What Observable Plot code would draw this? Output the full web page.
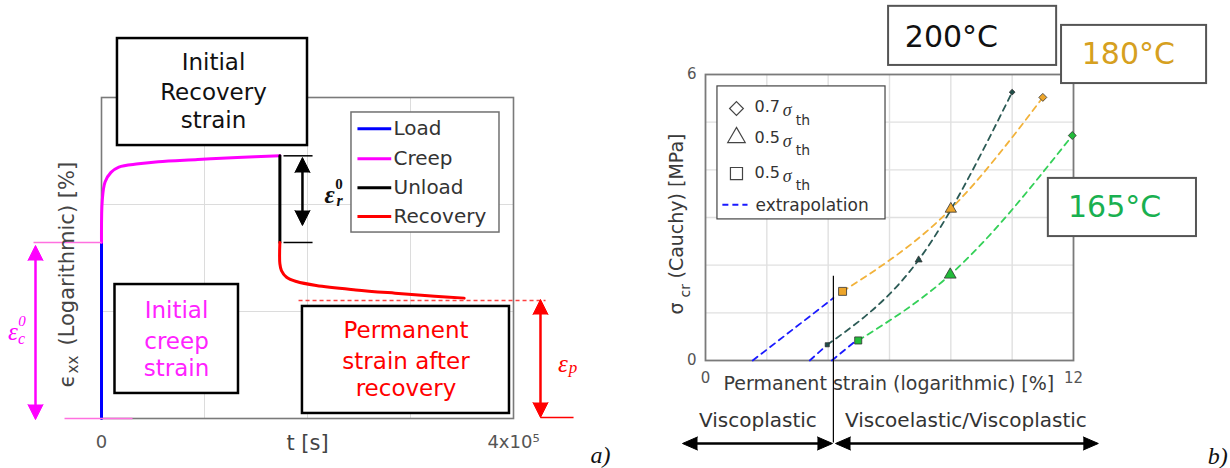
<!DOCTYPE html>
<html><head><meta charset="utf-8">
<script src="https://cdn.jsdelivr.net/npm/d3@7"></script>
<script src="https://cdn.jsdelivr.net/npm/@observablehq/plot@0.6"></script>
<style>
html,body{margin:0;padding:0;background:#fff;}
#wrap{display:flex;width:1230px;height:468px;overflow:hidden;}
#wrap svg{display:block;flex:none;}
</style></head><body><div id="wrap"></div>
<script>
// ================= Panel a) data =================
const stageNames = ["Load", "Creep", "Unload", "Recovery"];
const stageColors = ["#0000ff", "#ff00ff", "#000000", "#ff0000"];
const loadTime = [0, 0];
const loadStrain = [0, 1.645];
const creepTime = [0, 766, 3448, 9195, 16858, 36015, 55172, 93487, 131800, 173180];
const creepStrain = [1.645, 2.04, 2.21, 2.30, 2.35, 2.38, 2.40, 2.42, 2.44, 2.455];
const unloadTime = [173180, 173180];
const unloadStrain = [2.455, 1.645];
const recoveryTime = [173180, 173180, 174710, 179690, 189270, 208430, 246740, 285060, 323370, 352110];
const recoveryStrain = [1.645, 1.446, 1.383, 1.32, 1.28, 1.243, 1.202, 1.171, 1.143, 1.125];
const timeTicks = [0, 4e5];
const timeTickLabels = ["0", "4x10\u2075"];
const timeGrid = [1e5, 2e5, 3e5];
const logStrainGrid = [1, 2];

// ================= Panel b) data =================
const temperatures = ["200\u00b0C", "180\u00b0C", "165\u00b0C"];
const stressLevels = ["0.5\u03c3th (square)", "0.5\u03c3th (triangle)", "0.7\u03c3th (diamond)"];
const strain200 = [3.97, 6.95, 10.0];
const sigma200 = [0.33, 2.11, 5.63];
const strain180 = [4.47, 8.0, 11.0];
const sigma180 = [1.45, 3.18, 5.52];
const strain165 = [4.98, 7.98, 11.96];
const sigma165 = [0.42, 1.80, 4.72];
const extrapStrain200 = [3.40, 3.97];
const extrapSigma200 = [0, 0.33];
const extrapStrain180 = [1.54, 4.17];
const extrapSigma180 = [0, 1.31];
const extrapStrain165 = [4.12, 4.84];
const extrapSigma165 = [0, 0.38];
const boundaryStrain = 4.17;
const strainTicks = [0, 12];
const strainGrid = [2, 4, 6, 8, 10];
const sigmaTicks = [0, 6];
const sigmaGrid = [1, 2, 3, 4, 5];

// ================= helpers =================
const SANS = "DejaVu Sans", SERIF = "Liberation Serif";
const pts = (xs, ys) => xs.map((x, i) => ({x, y: ys[i]}));
const T = (rows, o = {}) => Plot.text(rows, {x: "x", y: "y", text: "t", fontFamily: SANS, ...o});
const L = (rows, o = {}) => Plot.link(rows, {x1: "x1", y1: "y1", x2: "x2", y2: "y2", ...o});
const H = (rows, o = {}) => Plot.vector(rows, {x: "x", y: "y", rotate: "rot", shape: "spike", anchor: "end", strokeWidth: 1, ...o});
const R = (rows, o = {}) => Plot.rect(rows, {x1: "x1", x2: "x2", y1: "y1", y2: "y2", fill: "white", ...o});

const wrap = document.getElementById("wrap");

// ================= Panel a) =================
const stageData = [
  pts(loadTime, loadStrain), pts(creepTime, creepStrain),
  pts(unloadTime, unloadStrain), pts(recoveryTime, recoveryStrain)
];
const legendY = [2.707, 2.427, 2.156, 1.888];

const chartA = Plot.plot({
  width: 615, height: 468,
  marginLeft: 101, marginRight: 102, marginTop: 97, marginBottom: 50,
  x: {domain: [0, 4e5]},
  y: {domain: [0, 3], axis: null},
  style: {fontFamily: SANS, background: "white", overflow: "visible"},
  marks: [
    Plot.gridX({ticks: timeGrid, stroke: "#dcdcdc", strokeOpacity: 1}),
    Plot.gridY({ticks: logStrainGrid, stroke: "#dcdcdc", strokeOpacity: 1}),
    Plot.frame({stroke: "#7a7a7a", strokeWidth: 1.6}),
    Plot.axisX({ticks: timeTicks, tickFormat: d => timeTickLabels[timeTicks.indexOf(d)], tickSize: 0, tickPadding: 17, fontSize: 18, color: "#555", label: null}),
    ...stageData.map((d, i) => Plot.line(d, {x: "x", y: "y", stroke: stageColors[i], strokeWidth: 3,
      curve: (i === 1 || i === 3) ? "catmull-rom" : "linear"})),
    L([{x1: -66000, x2: 0, y1: 1.645, y2: 1.645}, {x1: -35900, x2: 30100, y1: 0, y2: 0}], {stroke: "#ff70e0", strokeWidth: 1.6}),
    R([{x1: 15500, x2: 200000, y1: 2.551, y2: 3.551}], {stroke: "black", strokeWidth: 2.5}),
    R([{x1: 13100, x2: 133000, y1: 0.234, y2: 1.252}], {stroke: "black", strokeWidth: 2.5}),
    R([{x1: 195100, x2: 396100, y1: 0.047, y2: 1.047}], {stroke: "black", strokeWidth: 2.5}),
    R([{x1: 242700, x2: 386400, y1: 1.738, y2: 2.860}], {stroke: "#707070", strokeWidth: 1.5}),
    ...stageNames.map((n, i) => L([{x1: 248500, x2: 281300, y1: legendY[i], y2: legendY[i]}], {stroke: stageColors[i], strokeWidth: 3})),
    T(stageNames.map((n, i) => ({x: 283500, y: legendY[i], t: n})), {textAnchor: "start", fontSize: 20, fill: "#333"}),
    T([{x: 108700, y: 3.324, t: "Initial"}, {x: 108700, y: 3.044, t: "Recovery"}, {x: 108700, y: 2.785, t: "strain"}], {fontSize: 23, fill: "#111"}),
    T([{x: 72800, y: 1.009, t: "Initial"}, {x: 72800, y: 0.723, t: "creep"}, {x: 72800, y: 0.464, t: "strain"}], {fontSize: 23, fill: "#ff22ff"}),
    T([{x: 295600, y: 0.822, t: "Permanent"}, {x: 295600, y: 0.536, t: "strain after"}, {x: 295600, y: 0.278, t: "recovery"}], {fontSize: 23, fill: "#ff0000"}),
    T([{x: 200000, y: -0.234, t: "t [s]"}], {fontSize: 21, fill: "#444"}),
    T([{x: -33000, y: 0.290, t: "\u03f5"}], {rotate: -90, textAnchor: "start", fontSize: 21, fill: "#444"}),
    T([{x: -27200, y: 0.421, t: "xx"}], {rotate: -90, textAnchor: "start", fontSize: 15, fill: "#444"}),
    T([{x: -33000, y: 0.682, t: "(Logarithmic) [%]"}], {rotate: -90, textAnchor: "start", fontSize: 21, fill: "#444"}),
    L([{x1: -64080, x2: -64080, y1: 0.1, y2: 1.55}], {stroke: "#ff00ff", strokeWidth: 2.5}),
    H([{x: -64080, y: 1.617, rot: 0}, {x: -64080, y: -0.01, rot: 180}], {length: 15, r: 7.5, fill: "#ff00ff", stroke: "#ff00ff"}),
    T([{x: -85900, y: 0.808, t: "\u03b5"}], {fontFamily: SERIF, fontStyle: "italic", fontSize: 25, fill: "#ff00ff"}),
    T([{x: -77200, y: 0.905, t: "0"}], {fontFamily: SERIF, fontStyle: "italic", fontSize: 15, fill: "#ff00ff"}),
    T([{x: -77700, y: 0.745, t: "c"}], {fontFamily: SERIF, fontStyle: "italic", fontSize: 16, fill: "#ff00ff"}),
    L([{x1: 176700, x2: 204900, y1: 2.455, y2: 2.455}, {x1: 176700, x2: 204900, y1: 1.645, y2: 1.645}], {stroke: "black", strokeWidth: 1.5}),
    L([{x1: 195100, x2: 195100, y1: 1.85, y2: 2.40}], {stroke: "black", strokeWidth: 2.5}),
    H([{x: 195100, y: 2.439, rot: 0}, {x: 195100, y: 1.804, rot: 180}], {length: 15, r: 7.5, fill: "black", stroke: "black"}),
    T([{x: 221400, y: 2.093, t: "\u03b5"}], {fontFamily: SERIF, fontStyle: "italic", fontWeight: "bold", fontSize: 25, fill: "#111"}),
    T([{x: 230600, y: 2.19, t: "0"}], {fontFamily: SERIF, fontWeight: "bold", fontSize: 15, fill: "#111"}),
    T([{x: 231100, y: 2.03, t: "r"}], {fontFamily: SERIF, fontStyle: "italic", fontWeight: "bold", fontSize: 16, fill: "#111"}),
    L([{x1: 191300, x2: 431100, y1: 1.103, y2: 1.103}], {stroke: "#ff4040", strokeWidth: 1.3, strokeDasharray: "4,3"}),
    L([{x1: 426200, x2: 458300, y1: 0.009, y2: 0.009}], {stroke: "#ff0000", strokeWidth: 1.5}),
    L([{x1: 426200, x2: 426200, y1: 0.1, y2: 1.0}], {stroke: "#ff0000", strokeWidth: 2.5}),
    H([{x: 426200, y: 1.112, rot: 0}, {x: 426200, y: 0.009, rot: 180}], {length: 15, r: 7.5, fill: "#ff0000", stroke: "#ff0000"}),
    T([{x: 448000, y: 0.509, t: "\u03b5"}], {fontFamily: SERIF, fontStyle: "italic", fontSize: 25, fill: "#ff0000"}),
    T([{x: 457800, y: 0.476, t: "p"}], {fontFamily: SERIF, fontStyle: "italic", fontSize: 17, fill: "#ff0000"}),
    T([{x: 484500, y: -0.346, t: "a)"}], {fontFamily: SERIF, fontStyle: "italic", fontSize: 24, fill: "#111"})
  ]
});
wrap.append(chartA);

// ================= Panel b) =================
const series = [
  {temp: temperatures[0], xs: strain200, ys: sigma200, ex: extrapStrain200, ey: extrapSigma200, line: "#2b5a55", fill: "#1f4d48", r: [2.3, 2.6, 2.6]},
  {temp: temperatures[1], xs: strain180, ys: sigma180, ex: extrapStrain180, ey: extrapSigma180, line: "#f2b23a", fill: "#eda52a", r: [4.5, 4.2, 3.6]},
  {temp: temperatures[2], xs: strain165, ys: sigma165, ex: extrapStrain165, ey: extrapSigma165, line: "#34d058", fill: "#22bb3a", r: [4.0, 4.4, 3.6]}
];
const symbols = ["square", "triangle", "diamond2"];

const markMarks = [];
series.forEach(s => {
  s.xs.forEach((x, j) => {
    markMarks.push(Plot.dot([{x, y: s.ys[j], level: stressLevels[j]}], {x: "x", y: "y", symbol: symbols[j], r: s.r[j], fill: s.fill, stroke: "#333", strokeWidth: 0.8}));
  });
});

const chartB = Plot.plot({
  width: 615, height: 468,
  marginLeft: 90, marginRight: 157, marginTop: 74, marginBottom: 108,
  x: {domain: [0, 12]},
  y: {domain: [0, 6]},
  style: {fontFamily: SANS, background: "white", overflow: "visible"},
  marks: [
    Plot.gridX({ticks: strainGrid, stroke: "#e0e0e0", strokeOpacity: 1, strokeWidth: 1.4}),
    Plot.gridY({ticks: sigmaGrid, stroke: "#e0e0e0", strokeOpacity: 1, strokeWidth: 1.4}),
    Plot.frame({stroke: "#7a7a7a", strokeWidth: 1.8}),
    Plot.axisX({ticks: strainTicks, tickFormat: d => String(d), tickSize: 0, tickPadding: 12, fontSize: 15, color: "#555", label: null}),
    Plot.axisY({ticks: sigmaTicks, tickFormat: d => String(d), tickSize: 0, tickPadding: 9, fontSize: 15, color: "#555", label: null}),
    ...series.map(s => Plot.line(pts(s.ex, s.ey), {x: "x", y: "y", stroke: "#1a1aff", strokeWidth: 1.8, strokeDasharray: "6,5"})),
    ...series.map(s => Plot.line(pts(s.xs, s.ys), {x: "x", y: "y", stroke: s.line, strokeWidth: 1.8, strokeDasharray: "6,5", curve: "monotone-x"})),
    L([{x1: boundaryStrain, x2: boundaryStrain, y1: 1.78, y2: -1.72}], {stroke: "black", strokeWidth: 1.2}),
    ...markMarks,
    R([{x1: 0.39, x2: 5.87, y1: 2.96, y2: 5.75}], {stroke: "#444", strokeWidth: 1.2}),
    Plot.dot([{x: 1.01, y: 5.287}], {x: "x", y: "y", symbol: "diamond2", r: 6.2, fill: "white", stroke: "#444", strokeWidth: 1.2}),
    Plot.dot([{x: 1.01, y: 4.678}], {x: "x", y: "y", symbol: "triangle", r: 6.5, fill: "white", stroke: "#444", strokeWidth: 1.2}),
    Plot.dot([{x: 1.01, y: 3.923}], {x: "x", y: "y", symbol: "square", r: 6.8, fill: "white", stroke: "#444", strokeWidth: 1.2}),
    T([{x: 1.60, y: 5.317, t: "0.7"}, {x: 1.60, y: 4.668, t: "0.5"}, {x: 1.60, y: 3.934, t: "0.5"}], {textAnchor: "start", fontSize: 16, fill: "#333"}),
    T([{x: 2.66, y: 5.245, t: "\u03c3"}, {x: 2.66, y: 4.594, t: "\u03c3"}, {x: 2.66, y: 3.86, t: "\u03c3"}], {fontStyle: "italic", fontFamily: SERIF, fontSize: 18, fill: "#333"}),
    T([{x: 2.94, y: 5.035, t: "th"}, {x: 2.94, y: 4.406, t: "th"}, {x: 2.94, y: 3.661, t: "th"}], {textAnchor: "start", fontSize: 14, fill: "#333"}),
    L([{x1: 0.55, x2: 1.37, y1: 3.27, y2: 3.27}], {stroke: "#1a1aff", strokeWidth: 2, strokeDasharray: "6,4"}),
    T([{x: 1.63, y: 3.25, t: "extrapolation"}], {textAnchor: "start", fontSize: 17, fill: "#333"}),
    R([{x1: 5.97, x2: 11.45, y1: 6.19, y2: 7.43}], {stroke: "#555", strokeWidth: 2}),
    R([{x1: 11.61, x2: 16.34, y1: 5.81, y2: 7.03}], {stroke: "#555", strokeWidth: 2}),
    R([{x1: 11.18, x2: 16.01, y1: 2.60, y2: 3.82}], {stroke: "#555", strokeWidth: 2}),
    T([{x: 8.02, y: 6.776, t: temperatures[0]}], {fontSize: 30, fill: "#111"}),
    T([{x: 13.79, y: 6.42, t: temperatures[1]}], {fontSize: 30, fill: "#d6a020"}),
    T([{x: 13.34, y: 3.21, t: temperatures[2]}], {fontSize: 30, fill: "#19b050"}),
    T([{x: 5.98, y: -0.483, t: "Permanent strain (logarithmic) [%]"}], {fontSize: 19, fill: "#3a3a3a"}),
    T([{x: -0.946, y: 0.965, t: "\u03c3"}], {rotate: -90, textAnchor: "start", fontSize: 19, fill: "#3a3a3a"}),
    T([{x: -0.652, y: 1.322, t: "cr"}], {rotate: -90, textAnchor: "start", fontSize: 14, fill: "#3a3a3a"}),
    T([{x: -0.946, y: 1.72, t: "(Cauchy) [MPa]"}], {rotate: -90, textAnchor: "start", fontSize: 19, fill: "#3a3a3a"}),
    T([{x: 1.71, y: -1.259, t: "Viscoplastic"}, {x: 8.49, y: -1.259, t: "Viscoelastic/Viscoplastic"}], {fontSize: 20, fill: "#333"}),
    L([{x1: -0.5, x2: 3.9, y1: -1.741, y2: -1.741}, {x1: 4.5, x2: 12.5, y1: -1.741, y2: -1.741}], {stroke: "black", strokeWidth: 2.5}),
    H([{x: -0.75, y: -1.741, rot: -90}, {x: 4.14, y: -1.741, rot: 90}, {x: 4.24, y: -1.741, rot: -90}, {x: 12.81, y: -1.741, rot: 90}], {length: 15, r: 6.5, fill: "black", stroke: "black"}),
    T([{x: 16.70, y: -2.014, t: "b)"}], {fontFamily: SERIF, fontStyle: "italic", fontSize: 24, fill: "#111"})
  ]
});
wrap.append(chartB);
</script>
</body></html>
